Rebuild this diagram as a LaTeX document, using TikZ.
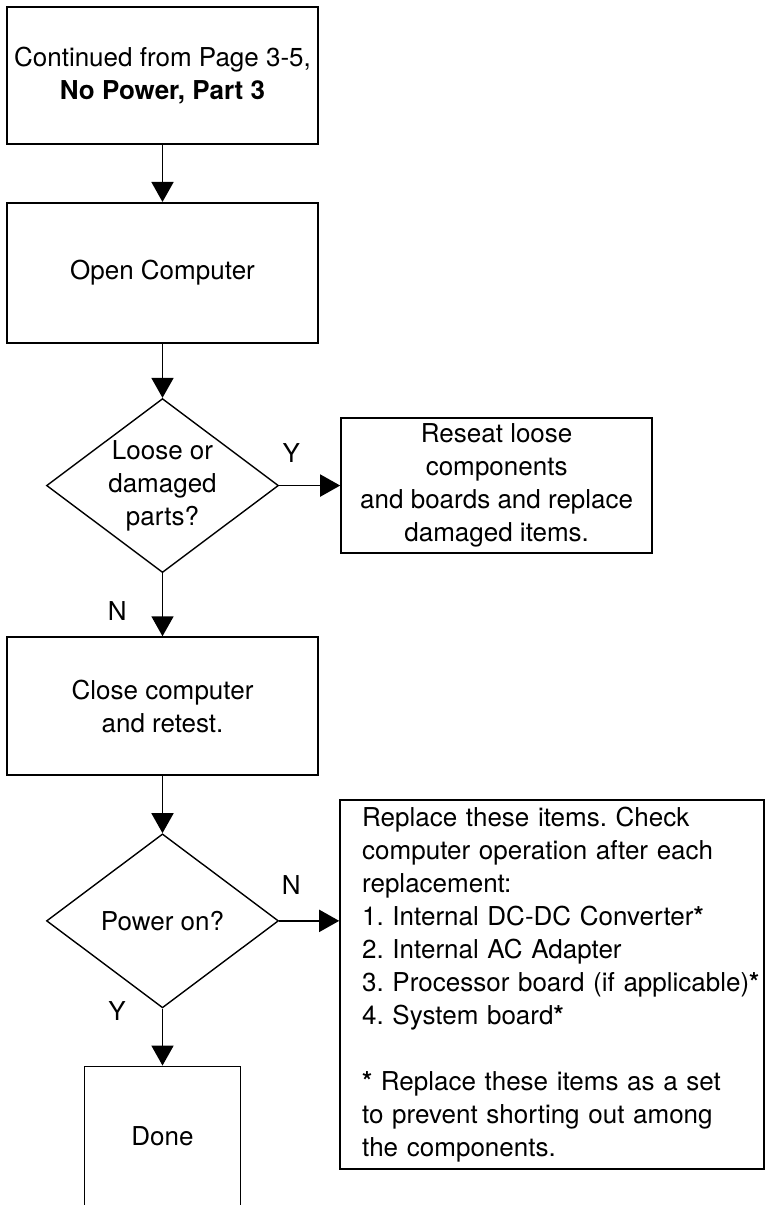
\documentclass[tikz,border=0pt]{standalone}
\usepackage{fontspec}
\setmainfont{TeX Gyre Heros}
\usepackage{tikz}
\usetikzlibrary{shapes.geometric}
\usetikzlibrary{positioning, arrows.meta}
\frenchspacing

\begin{document}
\begin{tikzpicture}[x=1pt, y=-1pt,
  font=\fontsize{26}{33}\selectfont,
  procbox/.style={draw, line width=1.9pt, align=center, inner sep=0pt, minimum width=311pt, minimum height=138pt},
  decide/.style={draw, diamond, line width=1.4pt, align=center, inner sep=0pt, aspect=1.33, minimum width=232pt, minimum height=174pt},
  yn/.style={inner sep=2pt},
  flow/.style={line width=1.8pt, -{Triangle[length=20pt, width=22pt]}}]
\useasboundingbox (0,0) rectangle (765,1205);
\clip (0,0) rectangle (765,1205);
\node[procbox, minimum height=137pt] (start) at (162.5,75.5) {Continued from Page 3-5,\\ \textbf{No Power, Part 3}};
\node[procbox, minimum height=140pt] (open) [below=57pt of start] {Open Computer};
\node[decide] (loose) [below=54pt of open] {Loose or\\ damaged\\ parts?};
\node[procbox, minimum height=135pt] (reseat) [right=61pt of loose] {Reseat loose\\ components\\ and boards and replace\\ damaged items.};
\node[procbox] (close) [below=63pt of loose] {Close computer\\ and retest.};
\node[decide] (poweron) [below=57pt of close] {Power on?};
\node[draw, line width=1.9pt, anchor=north west, align=left, text width=380pt, inner xsep=22pt, inner ysep=0pt, minimum height=369pt] (items) at ([xshift=60pt, yshift=121.5pt]poweron.east) {Replace these items. Check\\ computer operation after each\\ replacement:\\ 1. Internal DC-DC Converter\textbf{*}\\ 2. Internal AC Adapter\\ \mbox{3. Processor board (if applicable)\textbf{*}}\\ 4. System board\textbf{*}\\[33pt] \textbf{*} Replace these items as a set\\ to prevent shorting out among\\ the components.};
\node[procbox, minimum width=156pt, minimum height=140pt] (done) [below=57pt of poweron] {Done};
\draw[flow] (start) -- (open);
\draw[flow] (open) -- (loose);
\draw[flow] (loose.east) -- node[yn, above=20pt, pos=0.2] {Y} (reseat);
\draw[flow] (loose.south) -- node[yn, left=33pt, pos=0.6] {N} (close);
\draw[flow] (close) -- (poweron);
\draw[flow] (poweron.east) -- node[yn, above=23pt, pos=0.2] {N} (poweron.east -| items.west);
\draw[flow] (poweron.south) -- node[yn, left=34pt, pos=0.05] {Y} (done);
\end{tikzpicture}
\end{document}
